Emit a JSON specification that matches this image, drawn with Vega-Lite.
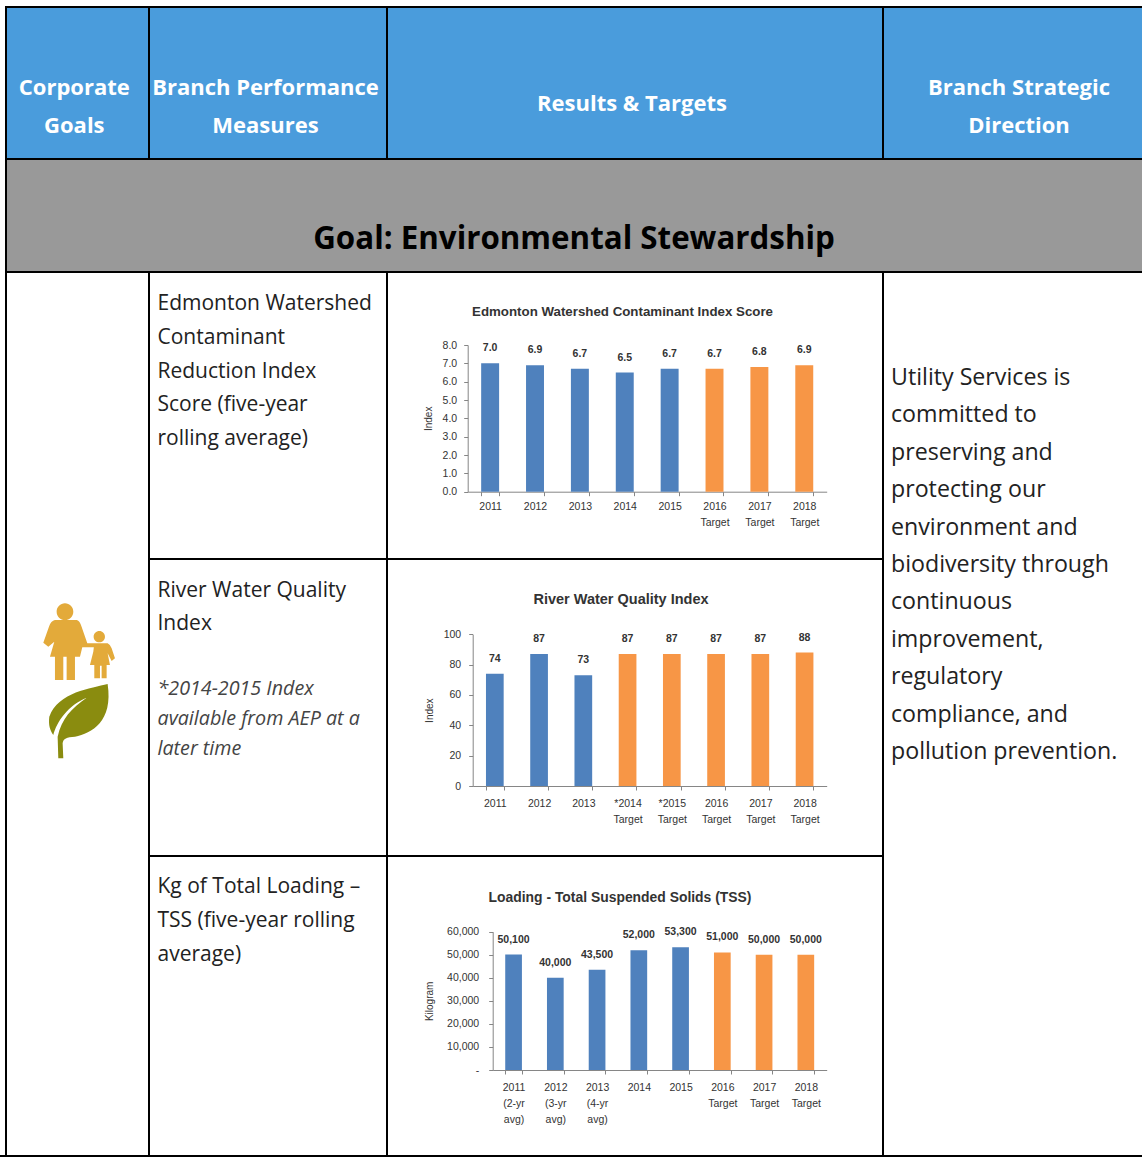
{
"$schema":"https://vega.github.io/schema/vega-lite/v6.json",
"padding":{"left":0,"top":0,"right":0,"bottom":2},
"background":"#000000",
"config":{"text":{"font":"Open Sans"},"title":{"font":"Liberation Sans"},"concat":{"spacing":2},"view":{"stroke":null}},
"spacing":0,
"hconcat":[
{"width":5,"height":1155,"view":{"fill":"white","stroke":null},"data":{"values":[{"part":"margin"}]},"mark":{"type":"point","filled":true,"opacity":1,"size":4,"color":"white","shape":"M-1,-3 L1,-3 L1,3 L-1,3 Z"},"encoding":{"x":{"datum":0,"scale":{"domain":[0,1],"range":[6,7]},"axis":null},"y":{"datum":0,"scale":{"domain":[0,1],"range":[3,4],"zero":false,"nice":false},"axis":null}}},
{"vconcat":[
{"width":1135,"height":6,"view":{"fill":"white","stroke":null},"data":{"values":[{"text":" "}]},"mark":{"type":"text","fontSize":1},"encoding":{"text":{"field":"text"}}},
{"hconcat":[
 {"width":141,"height":150,"view":{"fill":"#4a9cdc","stroke":null},
  "data":{"values":[{"line":0,"text":"Corporate"},{"line":1,"text":"Goals"}]},
  "mark":{"type":"text","font":"Open Sans","fontWeight":"bold","fontSize":22,"color":"white","align":"center","baseline":"middle"},
  "encoding":{"text":{"field":"text"},"x":{"datum":0,"scale":{"domain":[0,1],"range":[67.3,68.3]},"axis":null},"y":{"field":"line","type":"quantitative","scale":{"domain":[0,1],"range":[80,118],"zero":false,"nice":false},"axis":null}}},
 {"width":236,"height":150,"view":{"fill":"#4a9cdc","stroke":null},
  "data":{"values":[{"line":0,"text":"Branch Performance"},{"line":1,"text":"Measures"}]},
  "mark":{"type":"text","font":"Open Sans","fontWeight":"bold","fontSize":22,"color":"white","align":"center","baseline":"middle"},
  "encoding":{"text":{"field":"text"},"x":{"datum":0,"scale":{"domain":[0,1],"range":[115.5,116.5]},"axis":null},"y":{"field":"line","type":"quantitative","scale":{"domain":[0,1],"range":[80,118],"zero":false,"nice":false},"axis":null}}},
 {"width":494,"height":150,"view":{"fill":"#4a9cdc","stroke":null},
  "data":{"values":[{"line":0,"text":"Results & Targets"}]},
  "mark":{"type":"text","font":"Open Sans","fontWeight":"bold","fontSize":22,"color":"white","align":"center","baseline":"middle"},
  "encoding":{"text":{"field":"text"},"x":{"datum":0,"scale":{"domain":[0,1],"range":[244,245]},"axis":null},"y":{"field":"line","type":"quantitative","scale":{"domain":[0,1],"range":[96,134],"zero":false,"nice":false},"axis":null}}},
 {"width":258,"height":150,"view":{"fill":"#4a9cdc","stroke":null},
  "data":{"values":[{"line":0,"text":"Branch Strategic"},{"line":1,"text":"Direction"}]},
  "mark":{"type":"text","font":"Open Sans","fontWeight":"bold","fontSize":22,"color":"white","align":"center","baseline":"middle"},
  "encoding":{"text":{"field":"text"},"x":{"datum":0,"scale":{"domain":[0,1],"range":[135,136]},"axis":null},"y":{"field":"line","type":"quantitative","scale":{"domain":[0,1],"range":[80,118],"zero":false,"nice":false},"axis":null}}}
 ],"spacing":2},
{"width":1135,"height":111,"view":{"fill":"#999999","stroke":null},
 "data":{"values":[{"line":0,"text":"Goal: Environmental Stewardship"}]},
 "mark":{"type":"text","font":"Open Sans","fontWeight":"bold","fontSize":31.3,"color":"black","align":"center","baseline":"middle"},
 "encoding":{"text":{"field":"text"},"x":{"datum":0,"scale":{"domain":[0,1],"range":[567,568]},"axis":null},"y":{"field":"line","type":"quantitative","scale":{"domain":[0,1],"range":[80,102],"zero":false,"nice":false},"axis":null}}},
{"hconcat":[
 {"width":141,"height":882,"view":{"fill":"white","stroke":null},
  "data":{"values":[{"icon":"family","order":0},{"icon":"leaf","order":1}]},
  "encoding":{"x":{"datum":0,"scale":{"domain":[0,1],"range":[71.3,72.3]},"axis":null},"y":{"field":"order","type":"quantitative","scale":{"domain":[0,1],"range":[368.7,448.7],"zero":false,"nice":false},"axis":null}},
  "layer":[
   {"transform":[{"filter":"datum.icon==='family'"}],"mark":{"type":"point","filled":true,"opacity":1,"size":0.4444,"color":"#e3aa3a","shape":"M-65,-90 A25,25 0 1 1 -15,-90 A25,25 0 1 1 -65,-90 Z M-70,-65 L-5,-65 Q3,-63 8,-50 L27,5 L50,5 L50,17 L12,17 L5,45 L-10,45 L-10,115 L-35,115 L-35,45 L-45,45 L-45,115 L-70,115 L-70,45 L-85,45 L-72,0 L-90,15 L-105,3 L-88,-45 Q-82,-63 -70,-65 Z M46,-15 A17,17 0 1 1 80,-15 A17,17 0 1 1 46,-15 Z M48,5 L88,5 Q95,8 100,20 L110,50 L100,58 L88,35 L95,70 L85,70 L85,110 L70,110 L70,72 L65,72 L65,110 L48,110 L48,70 L35,70 L45,30 Z"}},
   {"transform":[{"filter":"datum.icon==='leaf'"}],"mark":{"type":"point","filled":true,"opacity":1,"size":0.4444,"color":"#8a8c0f","shape":"M88,-113 C40,-100 -60,-90 -87,-15 C-90,10 -85,25 -75,40 C-65,0 -30,-50 25,-72 C-20,-40 -50,-10 -62,45 L-60,110 L-45,110 L-47,65 C-45,50 -35,47 -10,45 C40,35 105,0 88,-113 Z"}}
  ]},
 {"vconcat":[
  {"hconcat":[
   {"width":236,"height":285,"view":{"fill":"white","stroke":null},
    "data":{"values":[{"line":0,"text":"Edmonton Watershed"},{"line":1,"text":"Contaminant"},{"line":2,"text":"Reduction Index"},{"line":3,"text":"Score (five-year"},{"line":4,"text":"rolling average)"}]},
    "mark":{"type":"text","font":"Open Sans","fontSize":21,"color":"#222","align":"left","baseline":"middle"},
    "encoding":{"text":{"field":"text"},"x":{"datum":0,"scale":{"domain":[0,1],"range":[7.5,8.5]},"axis":null},"y":{"field":"line","type":"quantitative","scale":{"domain":[0,4],"range":[31,166],"zero":false,"nice":false},"axis":null}}},
   {"width":494,"height":285,"view":{"fill":"white","stroke":null},
    "title":{"text":"Edmonton Watershed Contaminant Index Score","font":"Liberation Sans","fontSize":13.3,"fontWeight":"bold","color":"#333","anchor":"middle","frame":"group","baseline":"middle","offset":-52,"dx":-12.5},
    "data":{"values":[{"period":"2011","value":7.0,"kind":"Actual"},{"period":"2012","value":6.9,"kind":"Actual"},{"period":"2013","value":6.7,"kind":"Actual"},{"period":"2014","value":6.5,"kind":"Actual"},{"period":"2015","value":6.7,"kind":"Actual"},{"period":"2016 Target","value":6.7,"kind":"Target"},{"period":"2017 Target","value":6.8,"kind":"Target"},{"period":"2018 Target","value":6.9,"kind":"Target"}]},
    "encoding":{
     "x":{"field":"period","type":"nominal","sort":null,"scale":{"range":[79.7,438.7],"paddingInner":0.6,"paddingOuter":0.3},"axis":{"orient":"bottom","offset":-66.3,"title":null,"labelAngle":0,"labelExpr":"split(datum.label,' ')","labelLineHeight":15.5,"labelPadding":6,"labelFont":"Liberation Sans","labelFontSize":10.5,"labelColor":"#333","domainColor":"#868686","tickColor":"#868686","tickSize":4,"tickBand":"extent","grid":false,"labelOverlap":false,"labelBound":false,"labelFlush":false,"labelLimit":200}},
     "y":{"field":"value","type":"quantitative","scale":{"domain":[0,8],"range":[218.7,72],"nice":false},"axis":{"orient":"left","offset":-79.7,"title":"Index","titleX":-34,"titleFont":"Liberation Sans","titleFontSize":10,"titleFontWeight":"normal","titleColor":"#333","values":[0,1,2,3,4,5,6,7,8],"format":".1f","labelFont":"Liberation Sans","labelFontSize":10.5,"labelColor":"#333","labelPadding":7,"domainColor":"#868686","tickColor":"#868686","tickSize":4,"grid":false}}},
    "layer":[
     {"mark":{"type":"bar"},"encoding":{"color":{"field":"kind","type":"nominal","scale":{"domain":["Actual","Target"],"range":["#4f81bd","#f79646"]},"legend":null}}},
     {"mark":{"type":"text","font":"Liberation Sans","fontSize":10.5,"fontWeight":"bold","color":"#333","dy":-15,"baseline":"middle"},"encoding":{"text":{"field":"value","type":"quantitative","format":".1f"}}}
    ]}
  ],"spacing":2},
  {"hconcat":[
   {"width":236,"height":295,"view":{"fill":"white","stroke":null},
    "data":{"values":[{"line":0,"text":"River Water Quality","note":"plain"},{"line":1,"text":"Index","note":"plain"},{"line":2.97,"text":"*2014-2015 Index","note":"note"},{"line":3.88,"text":"available from AEP at a","note":"note"},{"line":4.79,"text":"later time","note":"note"}]},
    "encoding":{"text":{"field":"text"},"x":{"datum":0,"scale":{"domain":[0,1],"range":[7.5,8.5]},"axis":null},"y":{"field":"line","type":"quantitative","scale":{"domain":[0,1],"range":[31,64],"zero":false,"nice":false},"axis":null}},
    "layer":[
     {"transform":[{"filter":"datum.note==='plain'"}],"mark":{"type":"text","font":"Open Sans","fontSize":21,"color":"#222","align":"left","baseline":"middle"}},
     {"transform":[{"filter":"datum.note==='note'"}],"mark":{"type":"text","font":"Open Sans","fontSize":19.7,"fontStyle":"italic","color":"#444","align":"left","baseline":"middle"}}
    ]},
   {"width":494,"height":295,"view":{"fill":"white","stroke":null},
    "title":{"text":"River Water Quality Index","font":"Liberation Sans","fontSize":14.5,"fontWeight":"bold","color":"#333","anchor":"middle","frame":"group","baseline":"middle","offset":-54.5,"dx":-14},
    "data":{"values":[{"period":"2011","value":74,"kind":"Actual"},{"period":"2012","value":87,"kind":"Actual"},{"period":"2013","value":73,"kind":"Actual"},{"period":"*2014 Target","value":87,"kind":"Target"},{"period":"*2015 Target","value":87,"kind":"Target"},{"period":"2016 Target","value":87,"kind":"Target"},{"period":"2017 Target","value":87,"kind":"Target"},{"period":"2018 Target","value":88,"kind":"Target"}]},
    "encoding":{
     "x":{"field":"period","type":"nominal","sort":null,"scale":{"range":[84.7,438.7],"paddingInner":0.6,"paddingOuter":0.3},"axis":{"orient":"bottom","offset":-69,"title":null,"labelAngle":0,"labelExpr":"split(datum.label,' ')","labelLineHeight":16,"labelPadding":8,"labelFont":"Liberation Sans","labelFontSize":10.5,"labelColor":"#333","domainColor":"#868686","tickColor":"#868686","tickSize":4,"tickBand":"extent","grid":false,"labelOverlap":false,"labelBound":false,"labelFlush":false,"labelLimit":200}},
     "y":{"field":"value","type":"quantitative","scale":{"domain":[0,100],"range":[226,74.3],"nice":false},"axis":{"orient":"left","offset":-84.7,"title":"Index","titleX":-38.7,"titleFont":"Liberation Sans","titleFontSize":10,"titleFontWeight":"normal","titleColor":"#333","values":[0,20,40,60,80,100],"labelFont":"Liberation Sans","labelFontSize":10.5,"labelColor":"#333","labelPadding":8,"domainColor":"#868686","tickColor":"#868686","tickSize":4,"grid":false}}},
    "layer":[
     {"mark":{"type":"bar"},"encoding":{"color":{"field":"kind","type":"nominal","scale":{"domain":["Actual","Target"],"range":["#4f81bd","#f79646"]},"legend":null}}},
     {"mark":{"type":"text","font":"Liberation Sans","fontSize":10.5,"fontWeight":"bold","color":"#333","dy":-15,"baseline":"middle"},"encoding":{"text":{"field":"value","type":"quantitative"}}}
    ]}
  ],"spacing":2},
  {"hconcat":[
   {"width":236,"height":298,"view":{"fill":"white","stroke":null},
    "data":{"values":[{"line":0,"text":"Kg of Total Loading –"},{"line":1,"text":"TSS (five-year rolling"},{"line":2,"text":"average)"}]},
    "mark":{"type":"text","font":"Open Sans","fontSize":21,"color":"#222","align":"left","baseline":"middle"},
    "encoding":{"text":{"field":"text"},"x":{"datum":0,"scale":{"domain":[0,1],"range":[7.5,8.5]},"axis":null},"y":{"field":"line","type":"quantitative","scale":{"domain":[0,2],"range":[30,98],"zero":false,"nice":false},"axis":null}}},
   {"width":494,"height":298,"view":{"fill":"white","stroke":null},
    "title":{"text":"Loading - Total Suspended Solids (TSS)","font":"Liberation Sans","fontSize":13.9,"fontWeight":"bold","color":"#333","anchor":"middle","frame":"group","baseline":"middle","offset":-55,"dx":-15},
    "data":{"values":[{"period":"2011 (2-yr avg)","value":50100,"kind":"Actual"},{"period":"2012 (3-yr avg)","value":40000,"kind":"Actual"},{"period":"2013 (4-yr avg)","value":43500,"kind":"Actual"},{"period":"2014","value":52000,"kind":"Actual"},{"period":"2015","value":53300,"kind":"Actual"},{"period":"2016 Target","value":51000,"kind":"Target"},{"period":"2017 Target","value":50000,"kind":"Target"},{"period":"2018 Target","value":50000,"kind":"Target"}]},
    "encoding":{
     "x":{"field":"period","type":"nominal","sort":null,"scale":{"range":[104.7,438.7],"paddingInner":0.6,"paddingOuter":0.3},"axis":{"orient":"bottom","offset":-85,"title":null,"labelAngle":0,"labelExpr":"split(datum.label,' ')","labelLineHeight":16,"labelPadding":8,"labelFont":"Liberation Sans","labelFontSize":10.5,"labelColor":"#333","domainColor":"#868686","tickColor":"#868686","tickSize":4,"tickBand":"extent","grid":false,"labelOverlap":false,"labelBound":false,"labelFlush":false,"labelLimit":200}},
     "y":{"field":"value","type":"quantitative","scale":{"domain":[0,60000],"range":[213,74.7],"nice":false},"axis":{"orient":"left","offset":-104.7,"title":"Kilogram","titleX":-58.7,"titleFont":"Liberation Sans","titleFontSize":10,"titleFontWeight":"normal","titleColor":"#333","values":[0,10000,20000,30000,40000,50000,60000],"labelExpr":"datum.value===0?'-':format(datum.value,',')","labelFont":"Liberation Sans","labelFontSize":10.5,"labelColor":"#333","labelPadding":10,"domainColor":"#868686","tickColor":"#868686","tickSize":4,"grid":false}}},
    "layer":[
     {"mark":{"type":"bar"},"encoding":{"color":{"field":"kind","type":"nominal","scale":{"domain":["Actual","Target"],"range":["#4f81bd","#f79646"]},"legend":null}}},
     {"mark":{"type":"text","font":"Liberation Sans","fontSize":10.5,"fontWeight":"bold","color":"#333","dy":-15,"baseline":"middle"},"encoding":{"text":{"field":"value","type":"quantitative","format":","}}}
    ]}
  ],"spacing":2}
 ],"spacing":2},
 {"width":258,"height":882,"view":{"fill":"white","stroke":null},
  "data":{"values":[{"line":0,"text":"Utility Services is"},{"line":1,"text":"committed to"},{"line":2,"text":"preserving and"},{"line":3,"text":"protecting our"},{"line":4,"text":"environment and"},{"line":5,"text":"biodiversity through"},{"line":6,"text":"continuous"},{"line":7,"text":"improvement,"},{"line":8,"text":"regulatory"},{"line":9,"text":"compliance, and"},{"line":10,"text":"pollution prevention."}]},
  "mark":{"type":"text","font":"Open Sans","fontSize":23.2,"color":"#222","align":"left","baseline":"middle"},
  "encoding":{"text":{"field":"text"},"x":{"datum":0,"scale":{"domain":[0,1],"range":[7,8]},"axis":null},"y":{"field":"line","type":"quantitative","scale":{"domain":[0,10],"range":[105,479],"zero":false,"nice":false},"axis":null}}}
 ],"spacing":2}
],"spacing":2}
]}
